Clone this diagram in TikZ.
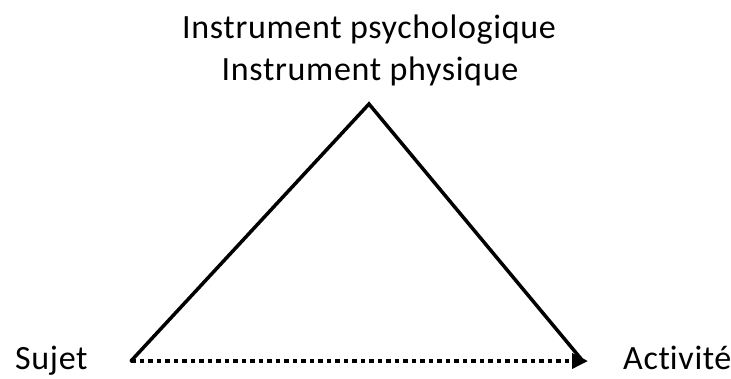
\documentclass[tikz,border=0pt]{standalone}
\usepackage{fontspec}
\setmainfont[LetterSpace=2,Ligatures={NoCommon,NoRare}]{Carlito}
\usetikzlibrary{arrows.meta}
\begin{document}
\begin{tikzpicture}[x=1pt,y=-1pt,
  lbl/.style={font=\fontsize{34}{40}\selectfont, inner sep=0pt},
  side/.style={line width=3.5pt, line cap=round, line join=miter}]
\useasboundingbox (0,0) rectangle (731,378);
\coordinate (top) at (369,104);
\coordinate (left) at (131,361);
\coordinate (right) at (582,360);
\coordinate (tip) at (588,361);
\draw[side] (left) -- (top) -- (right);
\draw[line width=3.5pt, dash pattern=on 4.5pt off 4pt, -{Triangle[length=16pt,width=15pt]}] (left) -- (tip);
\node[lbl, anchor=base] (t1) at (369,38) {Instrument psychologique};
\node[lbl, anchor=base] (t2) at (370,80) {Instrument physique};
\node[lbl, anchor=base west] (s) at (15,369) {Sujet};
\node[lbl, anchor=base west] (a) at (623,369) {Act\kern0pt ivit\kern0pt é};
\end{tikzpicture}
\end{document}
